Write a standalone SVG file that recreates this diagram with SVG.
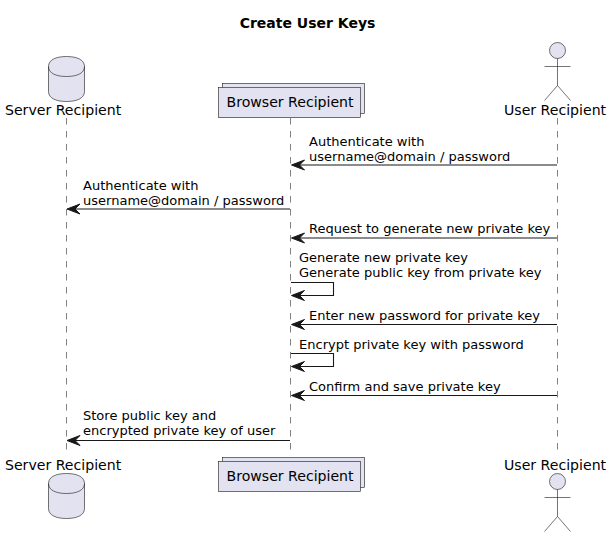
<svg xmlns="http://www.w3.org/2000/svg" width="611" height="537" viewBox="0 0 611 537">
<style>
text{font-family:"DejaVu Sans",sans-serif;fill:#000}
.t{font-size:14px;font-weight:bold}
.p{font-size:14.1px}
.m{font-size:13.03px}
.life{stroke:#181818;stroke-width:.55;stroke-dasharray:6.5,6.5;fill:none}
.shape{fill:#E2E2F0;stroke:#181818;stroke-width:.6}
.line{fill:none;stroke:#181818;stroke-width:.6}
.arrow{fill:none;stroke:#181818;stroke-width:1.1}
.head{fill:#181818;stroke:#181818;stroke-width:1}
</style>
<defs>
<g id="db"><path class="shape" d="M0 10C0 3 8 0 18 0C28 0 36 3 36 10V35C36 42 28 45 18 45C8 45 0 42 0 35Z"/><path class="line" d="M0 10C0 17 8 20 18 20C28 20 36 17 36 10"/></g>
<g id="actor"><circle class="shape" cx="0" cy="8" r="8"/><path class="line" d="M0 16V43M-13 24H13M0 43L-13 58M0 43L13 58"/></g>
<g id="coll"><rect class="shape" x="4" y="-4" width="142" height="30"/><rect class="shape" x="0" y="0" width="142" height="30"/></g>
<path id="l" class="head" d="M0 0L13 -5L8 0L13 5Z"/>
</defs>
<text class="t" x="307.500" y="28" text-anchor="middle">Create User Keys</text>
<g id="lifelines">
<path class="life" d="M66.500 118V453"/>
<path class="life" d="M290.500 118V453"/>
<path class="life" d="M557.500 118V453"/>
</g>
<g id="server-top"><use href="#db" x="48.500" y="56.500"/><text class="p" x="5" y="115">Server Recipient</text></g>
<g id="browser-top"><use href="#coll" x="218.500" y="87.500"/><text class="p" x="226.500" y="107">Browser Recipient</text></g>
<g id="user-top"><use href="#actor" x="557.500" y="42.500"/><text class="p" x="504" y="115">User Recipient</text></g>
<g id="server-bottom"><text class="p" x="5" y="470">Server Recipient</text><use href="#db" x="48.500" y="473.500"/></g>
<g id="browser-bottom"><use href="#coll" x="218.500" y="461.500"/><text class="p" x="226.500" y="481">Browser Recipient</text></g>
<g id="user-bottom"><text class="p" x="504" y="470">User Recipient</text><use href="#actor" x="557.500" y="473.500"/></g>
<g id="connectors">
<path class="arrow" d="M557 165H298"/><use href="#l" x="291.500" y="165"/>
<path class="arrow" d="M290 209H74"/><use href="#l" x="67" y="209"/>
<path class="arrow" d="M557 238H298"/><use href="#l" x="291.500" y="238"/>
<path class="arrow" d="M291 282.500H333.500V295.500H298"/><use href="#l" x="291.500" y="295.500"/>
<path class="arrow" d="M557 324.500H298"/><use href="#l" x="291.500" y="324.500"/>
<path class="arrow" d="M291 353.500H333.500V366.500H298"/><use href="#l" x="291.500" y="366.500"/>
<path class="arrow" d="M557 395.500H298"/><use href="#l" x="291.500" y="395.500"/>
<path class="arrow" d="M290 440.500H74"/><use href="#l" x="67" y="440.500"/>
</g>
<g id="labels">
<text class="m" x="309" y="146">Authenticate with</text>
<text class="m" x="309" y="161">username@domain / password</text>
<text class="m" x="83" y="190">Authenticate with</text>
<text class="m" x="83" y="205">username@domain / password</text>
<text class="m" x="309" y="233">Request to generate new private key</text>
<text class="m" x="299" y="262">Generate new private key</text>
<text class="m" x="299" y="277">Generate public key from private key</text>
<text class="m" x="309" y="320">Enter new password for private key</text>
<text class="m" x="299" y="349">Encrypt private key with password</text>
<text class="m" x="309" y="391">Confirm and save private key</text>
<text class="m" x="83" y="420">Store public key and</text>
<text class="m" x="83" y="435">encrypted private key of user</text>
</g>
</svg>
